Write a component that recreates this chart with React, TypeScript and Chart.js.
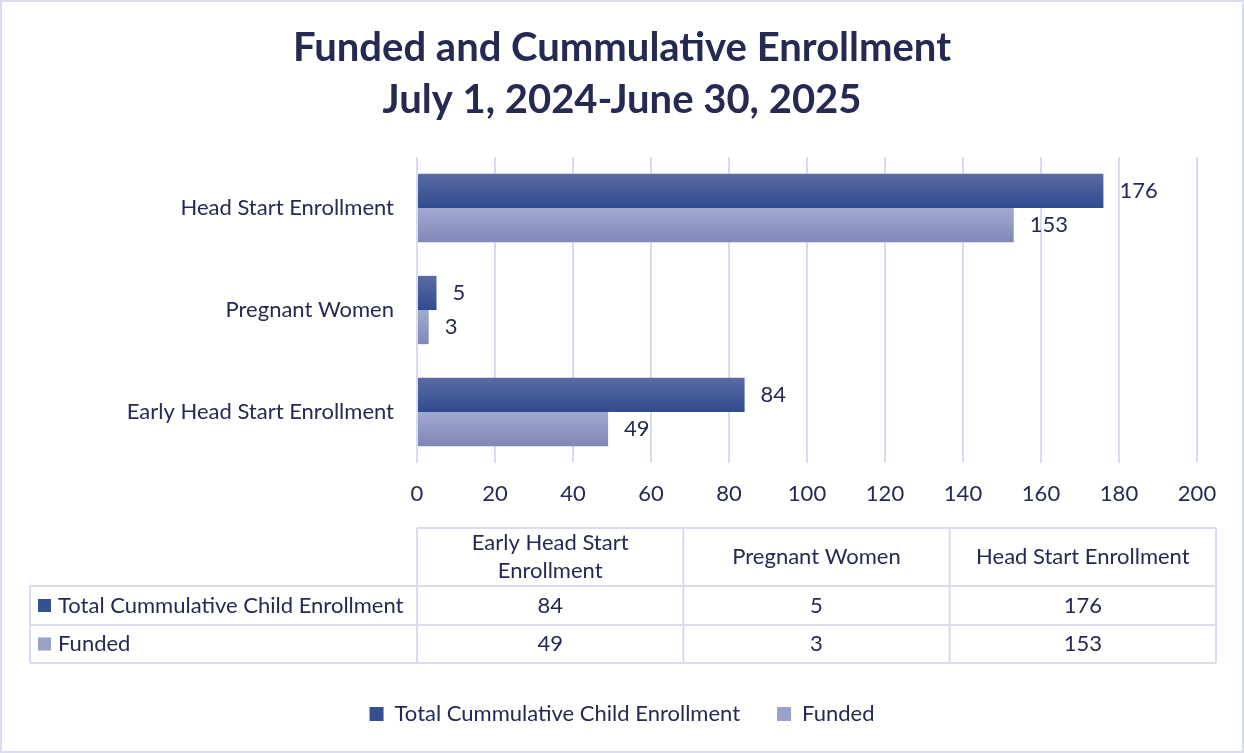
import React, { useEffect, useRef } from "react";
import { Chart, registerables } from "chart.js";

Chart.register(...registerables);

// ---- data ----
const categories = ["Early Head Start Enrollment", "Pregnant Women", "Head Start Enrollment"];
const seriesNames = ["Total Cummulative Child Enrollment", "Funded"];
const totalValues = [84, 5, 176];
const fundedValues = [49, 3, 153];
const titleLines = ["Funded and Cummulative Enrollment", "July 1, 2024-June 30, 2025"];
const xMin = 0;
const xMax = 200;
const xStep = 20;

// ---- style ----
const FONT = "Lato, 'Open Sans', sans-serif";
const FS = 22;
const TEXT = "#262a52";
const GRID = "#d9dcef";
const DARK_TOP = "#5b6ba3";
const DARK_BOTTOM = "#2f4b8f";
const LIGHT_TOP = "#a0a9d0";
const LIGHT_BOTTOM = "#7e89b8";
const DARK_SOLID = "#34508f";
const LIGHT_SOLID = "#98a2cb";
const CAT_PCT = 0.67;
const PAD_SIDE = 47;

function barGradient(c: any, top: string, bottom: string, datasetIndex: number) {
  const chart = c.chart;
  const area = chart.chartArea;
  const yScale = chart.scales && chart.scales.y;
  if (!area || !yScale || c.dataIndex === undefined) return bottom;
  const center = yScale.getPixelForValue(c.dataIndex);
  const band = Math.abs(yScale.getPixelForValue(1) - yScale.getPixelForValue(0));
  const thick = (band * CAT_PCT) / 2;
  const y0 = datasetIndex === 0 ? center - thick : center;
  const g = chart.ctx.createLinearGradient(0, y0, 0, y0 + thick);
  g.addColorStop(0, top);
  g.addColorStop(1, bottom);
  return g;
}

function wrapText(ctx: CanvasRenderingContext2D, text: string, maxW: number): string[] {
  const words = text.split(" ");
  const lines: string[] = [];
  let cur = "";
  for (const w of words) {
    const test = cur ? cur + " " + w : w;
    if (ctx.measureText(test).width > maxW && cur) {
      lines.push(cur);
      cur = w;
    } else cur = test;
  }
  if (cur) lines.push(cur);
  return lines;
}

const bgPlugin = {
  id: "bgBorder",
  beforeDraw(chart: any) {
    const { ctx, width, height } = chart;
    ctx.save();
    ctx.fillStyle = "#ffffff";
    ctx.fillRect(0, 0, width, height);
    ctx.strokeStyle = GRID;
    ctx.lineWidth = 2;
    ctx.strokeRect(1, 1, width - 2, height - 2);
    ctx.restore();
  },
};

const valueLabelPlugin = {
  id: "valueLabels",
  afterDatasetsDraw(chart: any) {
    const ctx = chart.ctx;
    ctx.save();
    ctx.font = `${FS}px ${FONT}`;
    ctx.fillStyle = TEXT;
    ctx.textAlign = "left";
    ctx.textBaseline = "middle";
    chart.data.datasets.forEach((ds: any, di: number) => {
      const meta = chart.getDatasetMeta(di);
      meta.data.forEach((bar: any, i: number) => {
        ctx.fillText(String(ds.data[i]), bar.x + 16, bar.y);
      });
    });
    ctx.restore();
  },
};

const tablePlugin = {
  id: "dataTable",
  afterDraw(chart: any) {
    const ctx = chart.ctx;
    const area = chart.chartArea;
    const left = area.left;
    const right = 1216;
    const rowLeft = 30;
    const headTop = 528;
    const headBottom = 586;
    const row1Bottom = 625;
    const row2Bottom = 663;
    const colW = (right - left) / categories.length;
    ctx.save();
    ctx.strokeStyle = GRID;
    ctx.lineWidth = 2;
    ctx.beginPath();
    ctx.moveTo(left, headTop); ctx.lineTo(right, headTop);
    ctx.moveTo(rowLeft, headBottom); ctx.lineTo(right, headBottom);
    ctx.moveTo(rowLeft, row1Bottom); ctx.lineTo(right, row1Bottom);
    ctx.moveTo(rowLeft, row2Bottom); ctx.lineTo(right, row2Bottom);
    ctx.moveTo(rowLeft, headBottom); ctx.lineTo(rowLeft, row2Bottom);
    for (let i = 0; i <= categories.length; i++) {
      const x = left + i * colW;
      ctx.moveTo(x, headTop); ctx.lineTo(x, row2Bottom);
    }
    ctx.stroke();

    ctx.font = `${FS}px ${FONT}`;
    ctx.fillStyle = TEXT;
    ctx.textBaseline = "middle";
    ctx.textAlign = "center";
    categories.forEach((cat, i) => {
      const cx = left + colW * (i + 0.5);
      const lines = wrapText(ctx, cat, colW - 20);
      const lh = 28;
      const mid = (headTop + headBottom) / 2;
      lines.forEach((ln, j) => {
        ctx.fillText(ln, cx, mid + (j - (lines.length - 1) / 2) * lh);
      });
    });
    const rows = [totalValues, fundedValues];
    const rowMids = [(headBottom + row1Bottom) / 2, (row1Bottom + row2Bottom) / 2];
    rows.forEach((vals, r) => {
      vals.forEach((v, i) => {
        ctx.fillText(String(v), left + colW * (i + 0.5), rowMids[r]);
      });
    });
    const solids = [DARK_SOLID, LIGHT_SOLID];
    seriesNames.forEach((name, r) => {
      ctx.fillStyle = solids[r];
      ctx.fillRect(38, rowMids[r] - 6.5, 13, 13);
      ctx.fillStyle = TEXT;
      ctx.textAlign = "left";
      ctx.fillText(name, 58, rowMids[r]);
    });
    ctx.restore();
  },
};

export default function App() {
  const ref = useRef<HTMLCanvasElement | null>(null);
  useEffect(() => {
    if (!ref.current) return;
    const labels = [...categories].reverse();
    const chart = new Chart(ref.current, {
      type: "bar",
      data: {
        labels,
        datasets: [
          {
            label: seriesNames[0],
            data: [...totalValues].reverse(),
            backgroundColor: (c: any) => barGradient(c, DARK_TOP, DARK_BOTTOM, 0),
            categoryPercentage: CAT_PCT,
            barPercentage: 1,
          },
          {
            label: seriesNames[1],
            data: [...fundedValues].reverse(),
            backgroundColor: (c: any) => barGradient(c, LIGHT_TOP, LIGHT_BOTTOM, 1),
            categoryPercentage: CAT_PCT,
            barPercentage: 1,
          },
        ],
      },
      options: {
        indexAxis: "y",
        responsive: false,
        animation: false,
        devicePixelRatio: 1,
        layout: { padding: { top: 0, left: PAD_SIDE, right: PAD_SIDE, bottom: 18 } },
        scales: {
          x: {
            min: xMin,
            max: xMax,
            ticks: { stepSize: xStep, color: TEXT, font: { family: FONT, size: FS }, padding: 18 },
            grid: { color: GRID, lineWidth: 2, drawTicks: false },
            border: { display: false },
            afterFit: (scale: any) => {
              scale.height = 203;
            },
          },
          y: {
            ticks: { color: TEXT, font: { family: FONT, size: FS }, padding: 23 },
            grid: { display: false, drawTicks: false },
            border: { display: false },
            afterFit: (scale: any) => {
              scale.width = 417 - PAD_SIDE;
            },
          },
        },
        plugins: {
          title: {
            display: true,
            text: titleLines,
            color: TEXT,
            font: { family: FONT, size: 40, weight: "bold", lineHeight: 1.3 },
            padding: { top: 22, bottom: 31 },
          },
          legend: {
            position: "bottom",
            labels: {
              color: TEXT,
              font: { family: FONT, size: FS },
              boxWidth: 14,
              boxHeight: 14,
              padding: 37,
              generateLabels: () =>
                seriesNames.map((n, i) => ({
                  text: n,
                  fillStyle: i === 0 ? DARK_SOLID : LIGHT_SOLID,
                  strokeStyle: i === 0 ? DARK_SOLID : LIGHT_SOLID,
                  lineWidth: 0,
                  hidden: false,
                  datasetIndex: i,
                  fontColor: TEXT,
                })),
            },
          },
          tooltip: { enabled: false },
        },
      },
      plugins: [bgPlugin, valueLabelPlugin, tablePlugin],
    } as any);
    return () => chart.destroy();
  }, []);
  return (
    <div style={{ position: "fixed", left: 0, top: 0, width: 1244, height: 753 }}>
      <canvas ref={ref} width={1244} height={753} style={{ display: "block" }} />
    </div>
  );
}
